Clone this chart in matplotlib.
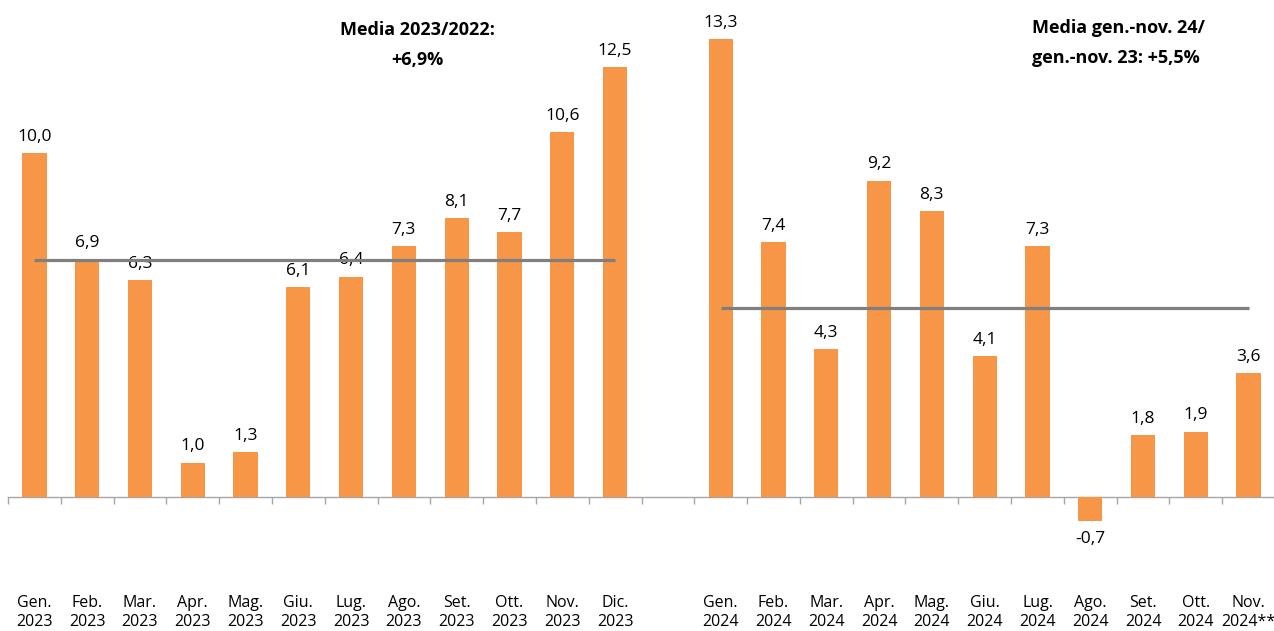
import matplotlib
matplotlib.use("Agg")
import matplotlib.pyplot as plt
import numpy as np

plt.rcParams['font.family'] = ['Open Sans', 'DejaVu Sans']

months_2023 = ["Gen.", "Feb.", "Mar.", "Apr.", "Mag.", "Giu.", "Lug.", "Ago.", "Set.", "Ott.", "Nov.", "Dic."]
months_2024 = ["Gen.", "Feb.", "Mar.", "Apr.", "Mag.", "Giu.", "Lug.", "Ago.", "Set.", "Ott.", "Nov."]
values_2023 = [10.0, 6.9, 6.3, 1.0, 1.3, 6.1, 6.4, 7.3, 8.1, 7.7, 10.6, 12.5]
values_2024 = [13.3, 7.4, 4.3, 9.2, 8.3, 4.1, 7.3, -0.7, 1.8, 1.9, 3.6]
avg_2023 = 6.9
avg_2024 = 5.5
labels_2023 = [f"{m}\n2023" for m in months_2023]
labels_2024 = [f"{m}\n2024" for m in months_2024[:-1]] + ["Nov.\n2024**"]
note_2023 = ["Media 2023/2022:", "+6,9%"]
note_2024 = ["Media gen.-nov. 24/", "gen.-nov. 23: +5,5%"]

bar_color = "#F79646"
line_color = "#7F7F7F"

fig = plt.figure(figsize=(12.74, 6.31), dpi=100)
ax = fig.add_axes([8/1274, 0.0707, 1267/1274, 0.9049])

x23 = np.arange(len(values_2023))
x24 = np.arange(len(values_2024)) + len(values_2023) + 1
xs = np.concatenate([x23, x24])
vals = values_2023 + values_2024
labels = labels_2023 + labels_2024

ax.bar(xs, vals, width=0.46, color=bar_color, zorder=2)

for x, v in zip(xs, vals):
    txt = f"{v:.1f}".replace(".", ",")
    if v >= 0:
        ax.annotate(txt, (x, v), xytext=(0, 6), textcoords="offset points",
                    ha="center", va="bottom", fontsize=12.5, color="#000000")
    else:
        ax.annotate(txt, (x, v), xytext=(0, -7), textcoords="offset points",
                    ha="center", va="top", fontsize=12.5, color="#000000")

ax.plot([x23[0], x23[-1]], [avg_2023, avg_2023], color=line_color, lw=2.3, zorder=3, solid_capstyle="butt")
ax.plot([x24[0], x24[-1]], [avg_2024, avg_2024], color=line_color, lw=2.3, zorder=3, solid_capstyle="butt")

ymin, ymax = -2.6, 14.0
ax.set_xlim(-0.5, 23.5)
ax.set_ylim(ymin, ymax)

ax.set_xticks(xs)
ax.set_xticklabels(labels, fontsize=11.5, linespacing=1.3)
ax.tick_params(axis="x", length=0, pad=6)
ax.set_yticks([])
for s in ax.spines.values():
    s.set_visible(False)

# category axis at zero with boundary ticks
loc = (0 - ymin) / (ymax - ymin)
sec = ax.secondary_xaxis(loc)
sec.set_xticks(np.arange(-0.5, 24, 1.0))
sec.set_xticklabels([])
sec.tick_params(axis="x", direction="out", length=5, width=1, color="#A6A6A6")
sec.spines["bottom"].set_color("#A6A6A6")
sec.spines["bottom"].set_linewidth(1)
sec.spines["top"].set_visible(False)

fig.text(417/1274, 1 - 30/631, note_2023[0], ha="center", va="center", fontsize=13, fontweight="bold")
fig.text(417/1274, 1 - 60/631, note_2023[1], ha="center", va="center", fontsize=13, fontweight="bold")
fig.text(1032/1274, 1 - 28/631, note_2024[0], ha="left", va="center", fontsize=13, fontweight="bold")
fig.text(1032/1274, 1 - 58/631, note_2024[1], ha="left", va="center", fontsize=13, fontweight="bold")

fig.savefig("out.png", dpi=100)
